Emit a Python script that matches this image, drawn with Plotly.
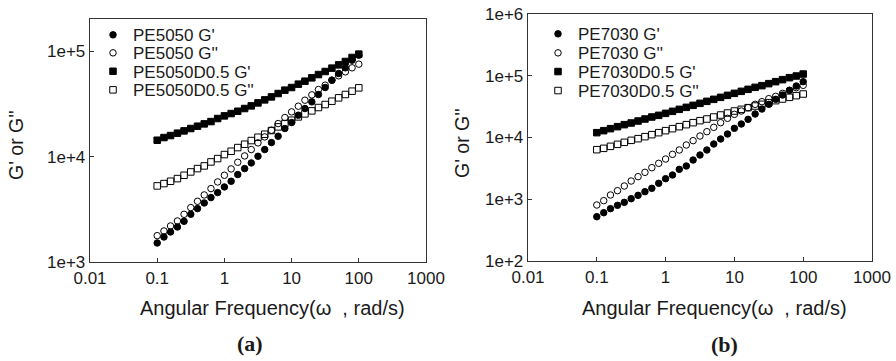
import plotly.graph_objects as go

freq = [0.1, 0.126, 0.158, 0.2, 0.251, 0.316, 0.398, 0.501, 0.631, 0.794,
        1, 1.26, 1.58, 2, 2.51, 3.16, 3.98, 5.01, 6.31, 7.94,
        10, 12.6, 15.8, 20, 25.1, 31.6, 39.8, 50.1, 63.1, 79.4, 100]

# Panel (a)
pe5050_gp = [1515, 1727, 1927, 2149, 2433, 2835, 3209, 3633, 4081, 4551,
             5152, 5833, 6749, 7693, 8709, 10074, 11654, 13580, 15600, 18447,
             21020, 24690, 28560, 33040, 38790, 45190, 53050, 61370, 69490, 82150, 91620]
pe5050_gpp = [1778, 1970, 2196, 2451, 2835, 3281, 3767, 4326, 4970, 5747,
              6648, 7637, 8837, 10146, 11654, 13484, 15370, 17780, 20570, 23460,
              26560, 30050, 34260, 38500, 43260, 47560, 53050, 58320, 63650, 69490, 75270]
pe5050d_gp = [14290, 15150, 15830, 16670, 17530, 18450, 19410, 20420, 21480, 22960,
              24320, 25590, 26920, 28560, 30270, 32300, 34510, 36810, 39630, 42660,
              45190, 48630, 51880, 55840, 59980, 64120, 69020, 74150, 79800, 87100, 93700]
pe5050d_gpp = [5268, 5543, 5833, 6183, 6648, 7151, 7693, 8154, 8899, 9572,
               10447, 11236, 12173, 13095, 14188, 15262, 16293, 17654, 19128, 20570,
               22130, 23800, 25420, 27140, 29190, 31170, 33520, 36060, 38790, 41720, 44870]

# Panel (b)
pe7030_gp = [522, 606, 704, 797, 891, 1022, 1157, 1327, 1502, 1811,
             2154, 2470, 3051, 3455, 4321, 5208, 6277, 7847, 9456, 11395,
             14073, 16543, 19693, 24025, 28940, 34440, 41500, 48780, 58040, 68230, 80200]
pe7030_gpp = [807, 949, 1172, 1377, 1639, 1975, 2321, 2729, 3247, 3816,
              4486, 5339, 6277, 7557, 8886, 10576, 12432, 14610, 17390, 20440,
              23730, 26860, 30410, 34440, 38040, 42560, 46420, 51900, 58040, 64120, 69970]
pe7030d_gp = [11976, 12900, 13905, 14983, 16140, 17170, 18500, 19930, 21480, 22860,
              24630, 26540, 28590, 30800, 33180, 35750, 38520, 41500, 44710, 48180,
              51900, 55920, 60260, 64920, 69090, 74440, 80200, 86410, 93110, 99080, 106700]
pe7030d_gpp = [6353, 6677, 7194, 7751, 8351, 8997, 9575, 10316, 11114, 11976,
               12900, 13905, 14983, 16140, 17390, 18730, 19930, 21480, 23140, 24930,
               26860, 28590, 30410, 32360, 34440, 36650, 39480, 42020, 44710, 47580, 50640]

x_ticks = [0.01, 0.1, 1, 10, 100, 1000]
x_ticktext = ["0.01", "0.1", "1", "10", "100", "1000"]
ya_ticks = [1e3, 1e4, 1e5]
ya_ticktext = ["1e+3", "1e+4", "1e+5"]
yb_ticks = [1e2, 1e3, 1e4, 1e5, 1e6]
yb_ticktext = ["1e+2", "1e+3", "1e+4", "1e+5", "1e+6"]

names_a = ["PE5050 G'", "PE5050 G''", "PE5050D0.5 G'", "PE5050D0.5 G''"]
names_b = ["PE7030 G'", "PE7030 G''", "PE7030D0.5 G'", "PE7030D0.5 G''"]
symbols = ["circle", "circle-open", "square", "square-open"]

W, H = 896, 361
FONT = "Liberation Sans, Arial, sans-serif"
INK = "#1a1a1a"

fig = go.Figure()

series_a = [pe5050_gp, pe5050_gpp, pe5050d_gp, pe5050d_gpp]
series_b = [pe7030_gp, pe7030_gpp, pe7030d_gp, pe7030d_gpp]

for i, (nm, ys) in enumerate(zip(names_a, series_a)):
    fig.add_trace(go.Scatter(
        x=freq, y=ys, name=nm, mode="markers", xaxis="x", yaxis="y", showlegend=True,
        marker=dict(symbol=symbols[i], size=6.5, color="black", line=dict(width=1, color="black")),
        legend="legend" if i == 0 else f"legend{i+1}"))
for i, (nm, ys) in enumerate(zip(names_b, series_b)):
    fig.add_trace(go.Scatter(
        x=freq, y=ys, name=nm, mode="markers", xaxis="x2", yaxis="y2", showlegend=True,
        marker=dict(symbol=symbols[i], size=6.5, color="black", line=dict(width=1, color="black")),
        legend=f"legend{i+5}"))

# Plot-area geometry (pixels)
a_l, a_r, a_t, a_b = 90, 426, 19, 262
b_l, b_r, b_t, b_b = 528, 872, 14, 261

axis_common = dict(
    type="log", showgrid=False, zeroline=False, showline=True, mirror=True, automargin=False,
    linecolor="#333", linewidth=1.3, ticks="inside", ticklen=4, tickwidth=1,
    tickcolor="#333", tickfont=dict(family=FONT, size=17, color=INK),
)

layout = dict(
    template="none", showlegend=True,
    width=W, height=H, margin=dict(l=0, r=0, t=0, b=0, pad=0, autoexpand=False),
    paper_bgcolor="white", plot_bgcolor="white",
    xaxis=dict(axis_common, domain=[a_l / W, a_r / W], anchor="y", range=[-2, 3],
               tickvals=x_ticks, ticktext=x_ticktext),
    yaxis=dict(axis_common, domain=[1 - a_b / H, 1 - a_t / H], anchor="x", range=[3, 5.305],
               tickvals=ya_ticks, ticktext=ya_ticktext),
    xaxis2=dict(axis_common, domain=[b_l / W, b_r / W], anchor="y2", range=[-2, 3],
                tickvals=x_ticks, ticktext=x_ticktext),
    yaxis2=dict(axis_common, domain=[1 - b_b / H, 1 - b_t / H], anchor="x2", range=[2, 6],
                tickvals=yb_ticks, ticktext=yb_ticktext),
)

# Legends: one entry each, placed at the reference rows
rows_a = [35.3, 53.3, 71.7, 90.3]
rows_b = [34.3, 53.3, 72.0, 91.0]
leg_x_a = 113 - 20
leg_x_b = 558 - 20
for i in range(8):
    key = "legend" if i == 0 else f"legend{i+1}"
    if i < 4:
        lx, ly = leg_x_a, rows_a[i]
    else:
        lx, ly = leg_x_b, rows_b[i - 4]
    layout[key] = dict(x=lx / W, y=1 - ly / H, xanchor="left", yanchor="middle",
                       bgcolor="rgba(0,0,0,0)", borderwidth=0, visible=True,
                       font=dict(family=FONT, size=17, color=INK))

fig.update_layout(**layout)

xtitle = "Angular Frequency(\u03c9\u00a0\u00a0, rad/s)"
ann = [
    dict(text=xtitle, x=272.5 / W, y=1 - 308 / H, xref="paper", yref="paper",
         showarrow=False, xanchor="center", yanchor="middle",
         font=dict(family=FONT, size=20, color=INK)),
    dict(text=xtitle, x=714.5 / W, y=1 - 308 / H, xref="paper", yref="paper",
         showarrow=False, xanchor="center", yanchor="middle",
         font=dict(family=FONT, size=20, color=INK)),
    dict(text="G' or G''", x=16 / W, y=1 - 145 / H, xref="paper", yref="paper",
         showarrow=False, xanchor="center", yanchor="middle", textangle=-90,
         font=dict(family=FONT, size=19.5, color=INK)),
    dict(text="G' or G''", x=462 / W, y=1 - 143 / H, xref="paper", yref="paper",
         showarrow=False, xanchor="center", yanchor="middle", textangle=-90,
         font=dict(family=FONT, size=19.5, color=INK)),
    dict(text="<b>(a)</b>", x=250 / W, y=1 - 343 / H, xref="paper", yref="paper",
         showarrow=False, xanchor="center", yanchor="middle",
         font=dict(family="Liberation Serif, Times New Roman, serif", size=22, color=INK)),
    dict(text="<b>(b)</b>", x=724 / W, y=1 - 344 / H, xref="paper", yref="paper",
         showarrow=False, xanchor="center", yanchor="middle",
         font=dict(family="Liberation Serif, Times New Roman, serif", size=22, color=INK)),
]
fig.update_layout(annotations=ann)

fig.write_html(
    "out.html",
    config={"displayModeBar": False, "staticPlot": True},
    post_script="document.body.style.margin='0';document.body.style.padding='0';"
                "document.documentElement.style.overflow='hidden';",
)
